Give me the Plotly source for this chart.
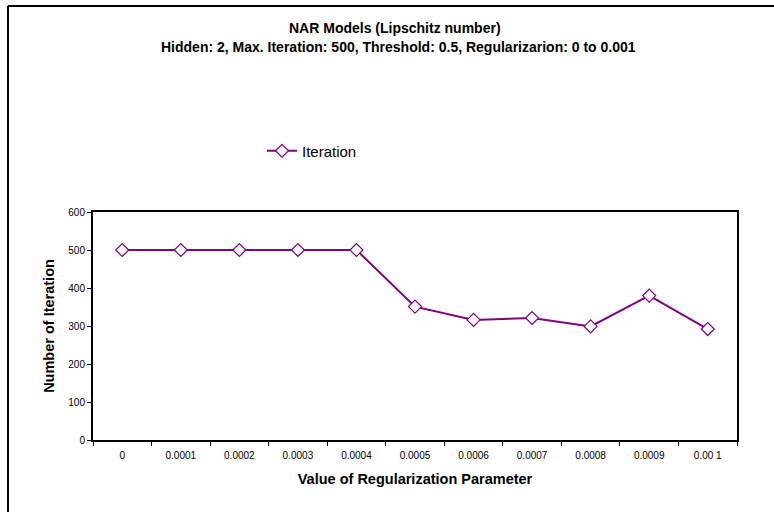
import plotly.graph_objects as go

# Regularization parameter values (category labels) and iteration counts
categories = ["0", "0.0001", "0.0002", "0.0003", "0.0004", "0.0005",
              "0.0006", "0.0007", "0.0008", "0.0009", "0.00 1"]
iterations = [500, 500, 500, 500, 500, 351, 316, 321, 299, 380, 292]
y_ticks = [0, 100, 200, 300, 400, 500, 600]

W, H = 774, 512
L, R, T, B = 93, 37, 212, 72
pw, ph = W - L - R, H - T - B

def px(x):
    return (x - L) / pw

def py(y):
    return (H - B - y) / ph

PURPLE = "#800080"
FONT = "Liberation Sans, Arial, sans-serif"

fig = go.Figure()
fig.add_trace(go.Scatter(
    x=categories, y=iterations, mode="lines+markers", name="Iteration",
    line=dict(color=PURPLE, width=2),
    marker=dict(symbol="diamond", size=10, color="white",
                line=dict(color=PURPLE, width=1.2)),
))

fig.update_layout(
    width=W, height=H,
    margin=dict(l=L, r=R, t=T, b=B),
    paper_bgcolor="white", plot_bgcolor="white",
    font=dict(family=FONT, color="black"),
    showlegend=True,
    legend=dict(x=px(262), y=py(151), xanchor="left", yanchor="middle",
                font=dict(size=15, family=FONT), bgcolor="rgba(0,0,0,0)"),
    xaxis=dict(
        type="category", range=[-0.5, len(categories) - 0.5],
        tickson="boundaries", ticks="outside", ticklen=4, tickcolor="black",
        showline=True, linecolor="black", linewidth=2, mirror=True,
        showgrid=False, tickfont=dict(size=10, family=FONT),
        ticklabelstandoff=5,
        title=dict(text="<b>Value of Regularization Parameter</b>",
                   font=dict(size=14.5, family=FONT), standoff=14),
    ),
    yaxis=dict(
        range=[0, 600], tickvals=y_ticks, ticks="outside", ticklen=4,
        tickcolor="black", showline=True, linecolor="black", linewidth=2,
        mirror=True, showgrid=False, zeroline=False,
        tickfont=dict(size=10, family=FONT),
        title=dict(text="<b>Number of Iteration</b>",
                   font=dict(size=14.5, family=FONT), standoff=10),
    ),
)

# Chart title, two lines
fig.add_annotation(text="<b>NAR Models (Lipschitz number)</b>",
                   xref="paper", yref="paper", x=px(395), y=py(28),
                   xanchor="center", yanchor="middle",
                   showarrow=False, font=dict(size=14, family=FONT))
fig.add_annotation(text="<b>Hidden: 2, Max. Iteration: 500, Threshold: 0.5, Regularizarion: 0 to 0.001</b>",
                   xref="paper", yref="paper", x=px(398), y=py(47),
                   xanchor="center", yanchor="middle",
                   showarrow=False, font=dict(size=14, family=FONT))

# Outer chart frame (top and left edges)
fig.add_shape(type="line", xref="paper", yref="paper",
              x0=px(8), y0=py(6), x1=px(W + 5), y1=py(6),
              line=dict(color="black", width=2))
fig.add_shape(type="line", xref="paper", yref="paper",
              x0=px(8), y0=py(6), x1=px(8), y1=py(H + 5),
              line=dict(color="black", width=2))

fig.write_html("out.html")
